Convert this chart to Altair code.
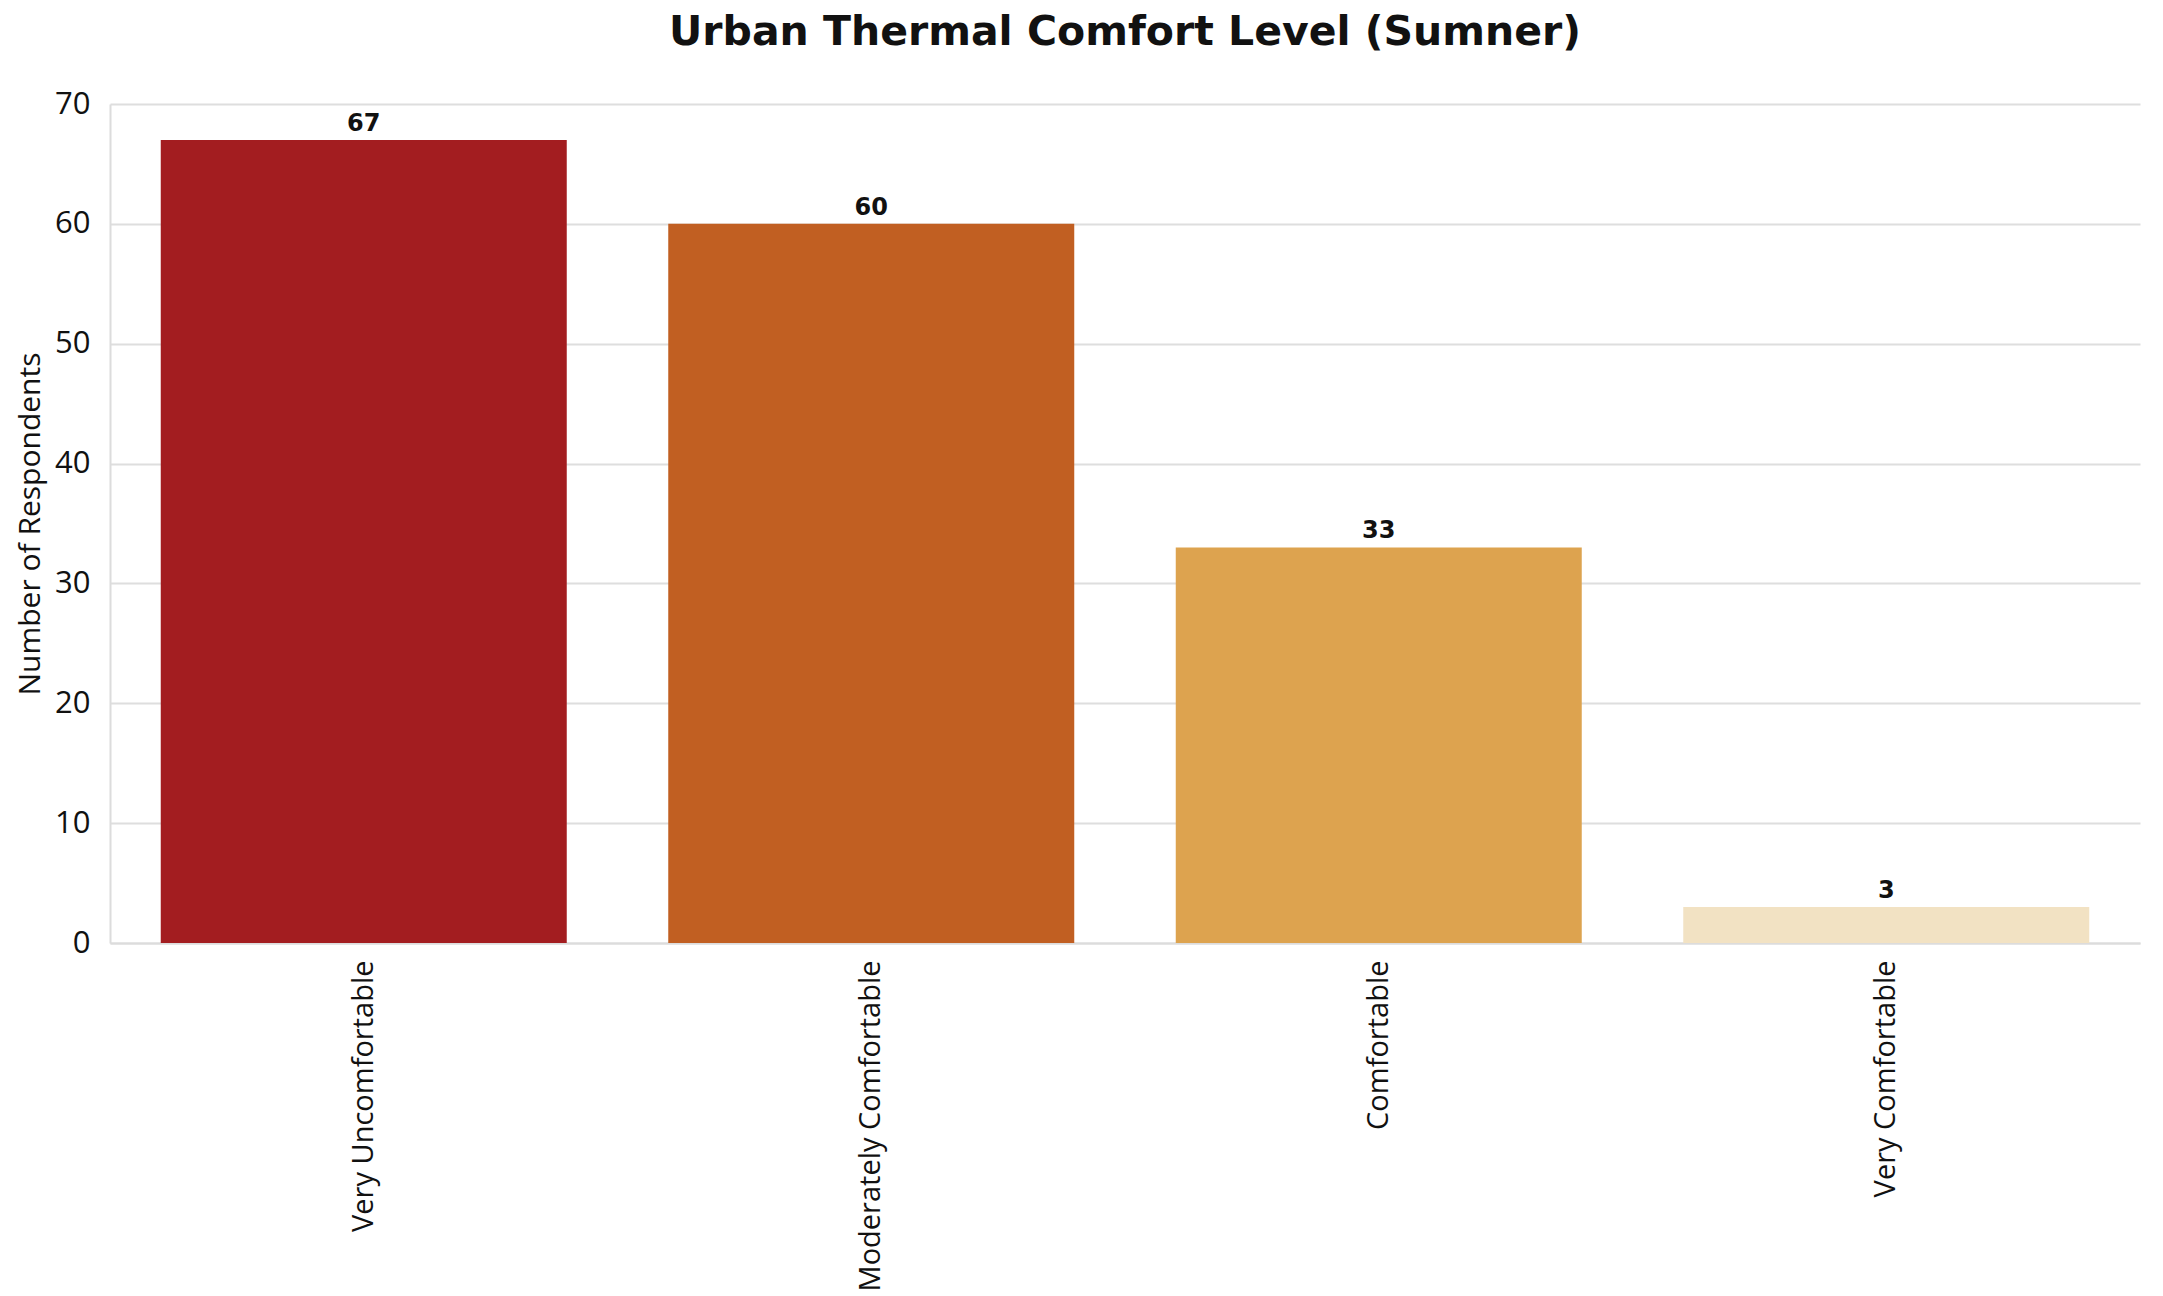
import altair as alt
import pandas as pd

categories = ["Very Uncomfortable", "Moderately Comfortable", "Comfortable", "Very Comfortable"]
counts = [67, 60, 33, 3]
colors = ["#A31D20", "#C15F22", "#DDA34F", "#F2E2C3"]

df = pd.DataFrame({"level": categories, "count": counts})

W, H = 2030, 839

x = alt.X("level:N", sort=categories, title=None,
          scale=alt.Scale(paddingInner=0.2, paddingOuter=0.1),
          axis=alt.Axis(labelAngle=-90, labelFont="Open Sans", labelFontSize=29,
                        labelColor="#111", labelPadding=17, ticks=False,
                        domainColor="#dcdcdc", domainWidth=2, labelLimit=600))

bars = alt.Chart(df).mark_bar().encode(
    x=x,
    y=alt.Y("count:Q", title="Number of Respondents",
            scale=alt.Scale(domain=[0, 70], nice=False),
            axis=alt.Axis(values=[0, 10, 20, 30, 40, 50, 60, 70], labelFont="Open Sans",
                          labelFontSize=31, labelColor="#111", ticks=False, labelPadding=20,
                          titleFont="Open Sans", titleFontSize=30, titleFontWeight="normal",
                          titleColor="#111", titlePadding=9, grid=True, gridColor="#dedede",
                          gridWidth=2, domainColor="#dcdcdc", domainWidth=2)),
    color=alt.Color("level:N", scale=alt.Scale(domain=categories, range=colors), legend=None),
)

labels = alt.Chart(df).mark_text(baseline="bottom", dy=-4, font="DejaVu Sans",
                                 fontWeight="bold", fontSize=24, color="#111").encode(
    x=alt.X("level:N", sort=categories),
    y=alt.Y("count:Q"),
    text=alt.Text("count:Q"),
)

chart = (bars + labels).properties(
    width=W, height=H,
    background="white",
    title=alt.TitleParams("Urban Thermal Comfort Level (Sumner)", font="DejaVu Sans",
                          fontSize=41, fontWeight="bold", color="#111", anchor="middle",
                          offset=34),
    autosize=alt.AutoSizeParams(type="none"),
    padding={"left": 102, "top": 96, "right": 15, "bottom": 352},
).configure_view(strokeWidth=0, stroke="transparent")

chart.save("out.html", embed_options={"renderer": "svg", "actions": False})
